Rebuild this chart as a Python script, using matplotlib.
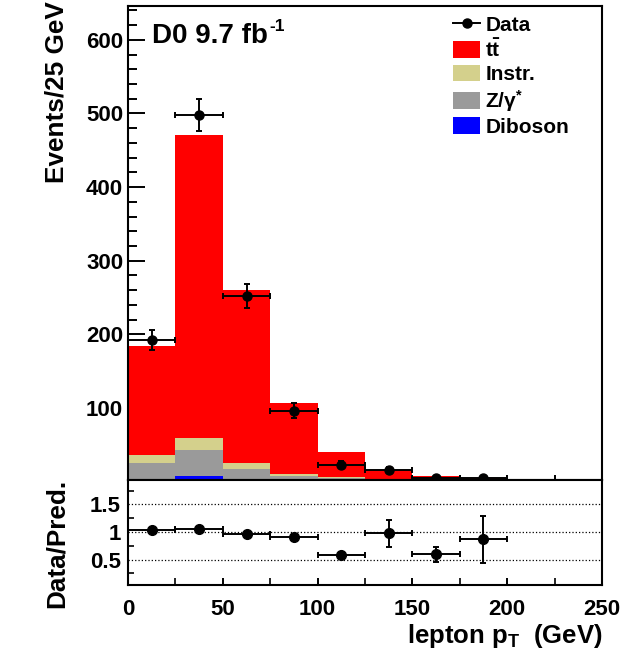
import matplotlib
matplotlib.use("Agg")
import matplotlib.pyplot as plt
import numpy as np
from matplotlib.patches import Patch
from matplotlib.lines import Line2D
from matplotlib.ticker import MultipleLocator, FixedLocator, NullFormatter

plt.rcParams['font.family'] = ['Liberation Sans', 'DejaVu Sans']
plt.rcParams['font.weight'] = 'bold'
plt.rcParams['mathtext.fontset'] = 'custom'
plt.rcParams['mathtext.rm'] = 'Liberation Sans:bold'
plt.rcParams['mathtext.bf'] = 'Liberation Sans:bold'
plt.rcParams['mathtext.it'] = 'Liberation Sans:bold:italic'
plt.rcParams['mathtext.default'] = 'rm'

# ---------------- data ----------------
bin_edges = [0, 25, 50, 75, 100, 125, 150, 175, 200]
diboson = [1.5, 7, 4, 3, 1.5, 0.5, 0.2, 0.1]
zgamma = [24, 36, 13.5, 5, 3, 1, 0.5, 0.3]
instr = [10, 16, 7.5, 2.5, 1.5, 0.5, 0.3, 0.2]
ttbar = [148.5, 412, 235, 96.5, 34, 13, 6.5, 4.2]

data = [192, 498, 252, 96, 22.5, 16, 5, 4.3]
data_err = [14, 22, 16, 10, 4.7, 4, 2.2, 2.1]

ratio = [1.04, 1.05, 0.96, 0.90, 0.585, 0.98, 0.60, 0.87]
ratio_err_lo = [0.03, 0.03, 0.04, 0.05, 0.06, 0.25, 0.14, 0.44]
ratio_err_hi = [0.03, 0.03, 0.04, 0.05, 0.06, 0.24, 0.12, 0.42]

labels = ['Data', r'$\mathrm{t\bar{t}}$', 'Instr.', r'Z/$\gamma^{*}$', 'Diboson']
colors = {'ttbar': '#ff0000', 'instr': '#d4d08c', 'zgamma': '#9a9a9a', 'diboson': '#0000ff'}

# ---------------- figure ----------------
W, H = 636, 653
fig = plt.figure(figsize=(W / 100, H / 100), dpi=100)
L, R = 128, 602
ax = fig.add_axes([L / W, 1 - 480 / H, (R - L) / W, (480 - 6) / H])
axr = fig.add_axes([L / W, 1 - 585 / H, (R - L) / W, (585 - 480) / H])

edges = np.array(bin_edges, dtype=float)
left = edges[:-1]
width = np.diff(edges)
centers = left + width / 2

bottom = np.zeros(len(left))
for vals, key in [(diboson, 'diboson'), (zgamma, 'zgamma'), (instr, 'instr'), (ttbar, 'ttbar')]:
    v = np.array(vals, dtype=float)
    ax.bar(left, v, width=width, bottom=bottom, align='edge', color=colors[key],
           edgecolor='none', linewidth=0, zorder=2)
    bottom = bottom + v

ax.errorbar(centers, data, xerr=width / 2, yerr=data_err, fmt='o', color='black',
            ms=6.5, elinewidth=1.4, capsize=2.5, capthick=1.4, zorder=5)

ax.set_xlim(0, 250)
ax.set_ylim(2, 646)
ax.yaxis.set_major_locator(FixedLocator([100, 200, 300, 400, 500, 600]))
ax.yaxis.set_minor_locator(MultipleLocator(20))
ax.xaxis.set_major_locator(MultipleLocator(50))
ax.xaxis.set_minor_locator(MultipleLocator(25))
ax.xaxis.set_major_formatter(NullFormatter())
ax.tick_params(axis='y', which='major', direction='in', length=12, width=1.4,
               labelsize=16, pad=3.5, right=False)
ax.tick_params(axis='y', which='minor', direction='in', length=6.5, width=1.4, right=False)
ax.tick_params(axis='x', which='both', direction='in', length=3.5, width=1.4, top=False)
for s in ax.spines.values():
    s.set_linewidth(1.5)

# ratio panel
axr.errorbar(centers, ratio, xerr=width / 2, yerr=[ratio_err_lo, ratio_err_hi], fmt='o',
             color='black', ms=7, elinewidth=1.4, capsize=2.5, capthick=1.4, zorder=5)
axr.set_xlim(0, 250)
axr.set_ylim(0.04, 1.94)
axr.yaxis.set_major_locator(FixedLocator([0.5, 1.0, 1.5]))
axr.yaxis.set_major_formatter(plt.FuncFormatter(lambda v, p: f"{v:g}"))
axr.yaxis.set_minor_locator(FixedLocator([0.25, 0.75, 1.25, 1.75]))
axr.xaxis.set_major_locator(MultipleLocator(50))
axr.xaxis.set_minor_locator(MultipleLocator(25))
axr.grid(axis='y', which='major', linestyle=':', color='black', linewidth=0.9)
axr.tick_params(axis='y', which='major', direction='in', length=0, width=1.4,
                labelsize=16, pad=5, right=False)
axr.tick_params(axis='y', which='minor', direction='in', length=4, width=1.2, right=False)
axr.tick_params(axis='x', which='major', direction='in', length=5, width=1.4,
                labelsize=16, pad=10, top=False)
axr.tick_params(axis='x', which='minor', direction='in', length=5, width=1.2, top=False)
for s in axr.spines.values():
    s.set_linewidth(1.5)

# labels
fig.text(57 / W, 1 - 1 / H, 'Events/25 GeV', rotation=90, ha='center', va='top',
         fontsize=18.8, fontweight='bold')
fig.text(57 / W, 1 - 543 / H, 'Data/Pred.', rotation=90, ha='center', va='center',
         fontsize=18.8, fontweight='bold')
fig.text(603 / W, 1 - 643 / H, r'lepton p$_{\mathrm{T}}$  (GeV)', ha='right', va='baseline',
         fontsize=18.5, fontweight='bold')
fig.text(152 / W, 1 - 43 / H, 'D0 9.7 fb', ha='left', va='baseline',
         fontsize=20, fontweight='bold')
fig.text(269 / W, 1 - 31 / H, '-1', ha='left', va='baseline',
         fontsize=12.5, fontweight='bold')

handles = [
    Line2D([0], [0], color='black', marker='o', ms=6.5, lw=1.4),
    Patch(facecolor=colors['ttbar'], edgecolor='none'),
    Patch(facecolor=colors['instr'], edgecolor='none'),
    Patch(facecolor=colors['zgamma'], edgecolor='none'),
    Patch(facecolor=colors['diboson'], edgecolor='none'),
]
leg = fig.legend(handles, labels, loc='upper left', bbox_to_anchor=(453 / W, 1 - 15 / H),
                 frameon=False, fontsize=15, handlelength=1.3, handleheight=0.85,
                 handletextpad=0.25, labelspacing=0.18, borderpad=0, borderaxespad=0)
for t in leg.get_texts():
    t.set_fontweight('bold')

fig.savefig('out.png', dpi=100)
